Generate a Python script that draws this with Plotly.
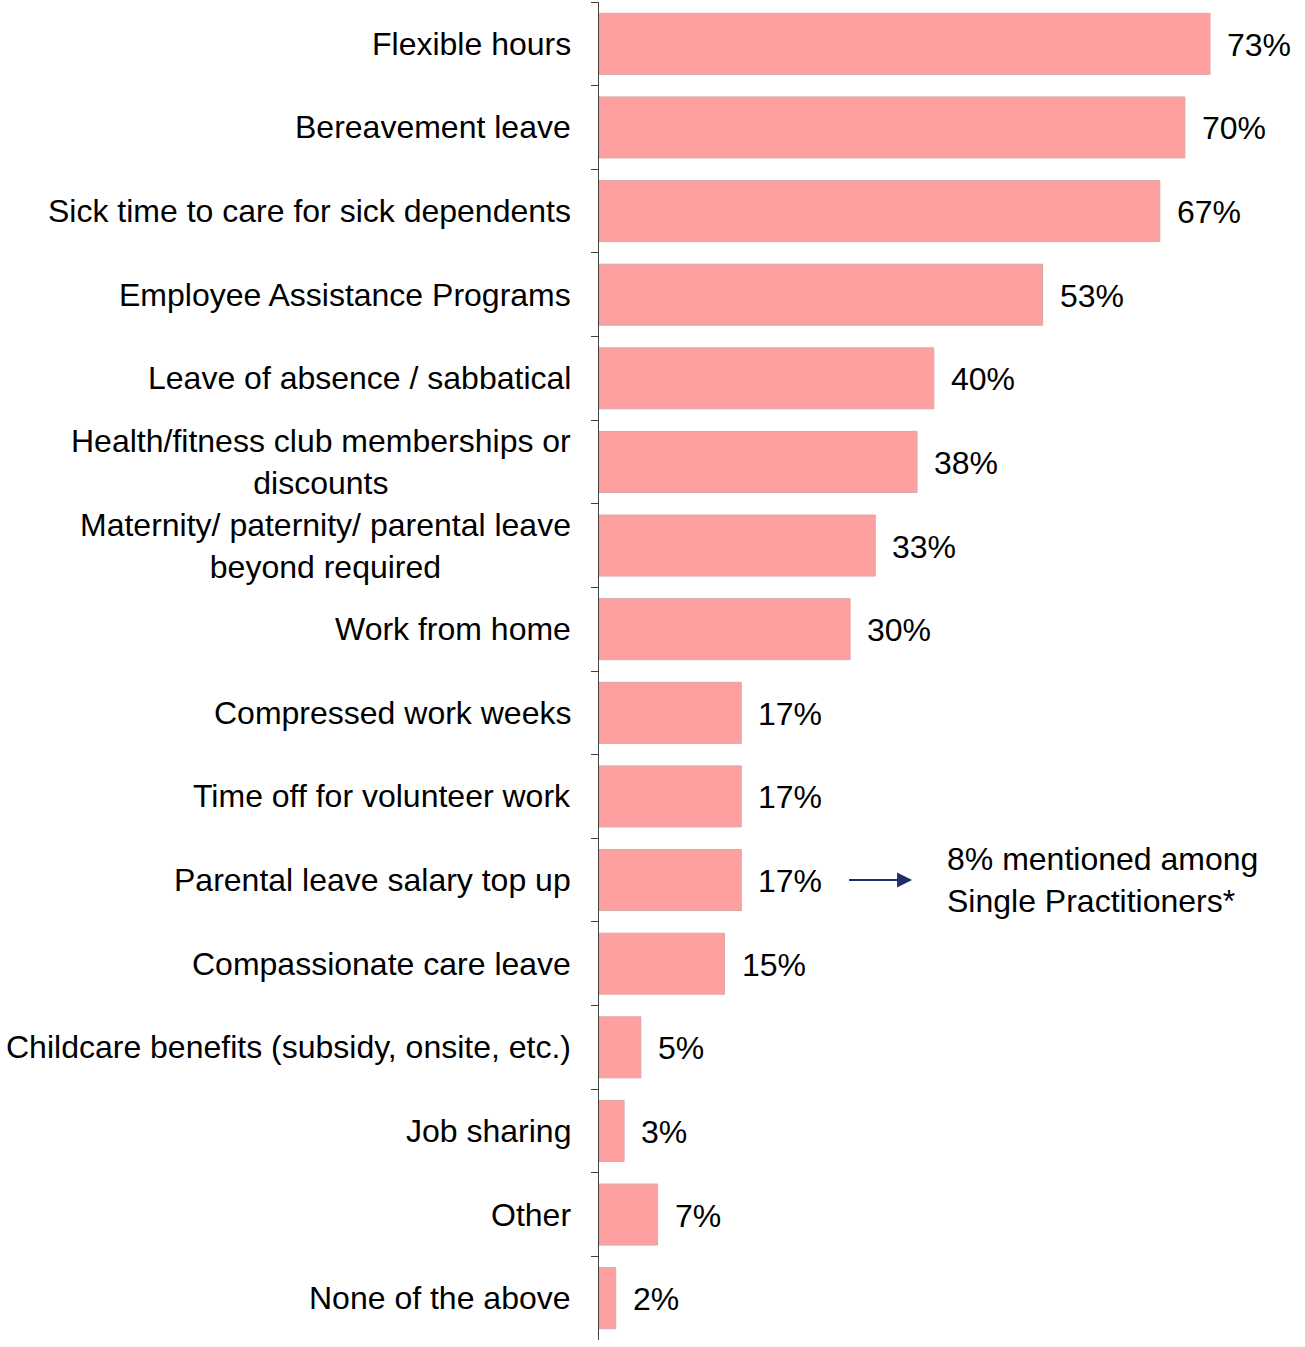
import plotly.graph_objects as go

categories = [
    "Flexible hours",
    "Bereavement leave",
    "Sick time to care for sick dependents",
    "Employee Assistance Programs",
    "Leave of absence / sabbatical",
    "Health/fitness club memberships or<br>discounts",
    "Maternity/ paternity/ parental leave<br>beyond required",
    "Work from home",
    "Compressed work weeks",
    "Time off for volunteer work",
    "Parental leave salary top up",
    "Compassionate care leave",
    "Childcare benefits (subsidy, onsite, etc.)",
    "Job sharing",
    "Other",
    "None of the above",
]
values = [73, 70, 67, 53, 40, 38, 33, 30, 17, 17, 17, 15, 5, 3, 7, 2]
value_labels = [f"{v}%" for v in values]

note_category = "Parental leave salary top up"
note_text = "8% mentioned among<br>Single Practitioners*"

FONT = "Liberation Sans, Arial, sans-serif"
FS = 32

fig = go.Figure()
fig.add_trace(go.Bar(
    y=categories,
    x=values,
    orientation="h",
    marker=dict(color="#FFA0A0", line=dict(color="#D8A8A8", width=1)),
    hoverinfo="skip",
))

annotations = []
for c in categories:
    annotations.append(dict(
        x=0, xref="paper", y=c, yref="y", text=c, showarrow=False,
        xanchor="right", yanchor="middle", align="center", xshift=-26,
        font=dict(family=FONT, size=FS, color="#000000"),
    ))
for c, v, t in zip(categories, values, value_labels):
    annotations.append(dict(
        x=v, xref="x", y=c, yref="y", text=t, showarrow=False,
        xanchor="left", yanchor="middle", xshift=15, yshift=-1,
        font=dict(family=FONT, size=FS, color="#000000"),
    ))
# arrow
annotations.append(dict(
    x=37.4, y=note_category, xref="x", yref="y",
    ax=29.7, ay=note_category, axref="x", ayref="y",
    text="", showarrow=True, arrowhead=2, arrowsize=1.5, arrowwidth=2,
    arrowcolor="#1F2D6B",
))
annotations.append(dict(
    x=41.3, xref="x", y=note_category, yref="y", text=note_text,
    showarrow=False, xanchor="left", yanchor="middle", align="left",
    font=dict(family=FONT, size=FS, color="#000000"),
))

fig.update_layout(
    width=1305, height=1347,
    margin=dict(l=599, r=0, t=2, b=7),
    paper_bgcolor="white", plot_bgcolor="white",
    showlegend=False,
    bargap=0.27,
    annotations=annotations,
    xaxis=dict(range=[0, 706 / 8.37], visible=False, fixedrange=True),
    yaxis=dict(
        autorange="reversed",
        showticklabels=False,
        showline=True, linecolor="#404040", linewidth=1,
        ticks="outside", ticklen=7, tickcolor="#404040", tickwidth=1,
        tickson="boundaries",
        showgrid=False, zeroline=False, fixedrange=True,
    ),
)

fig.write_html("out.html", config={"displayModeBar": False},
               post_script="document.body.style.margin='0';")
